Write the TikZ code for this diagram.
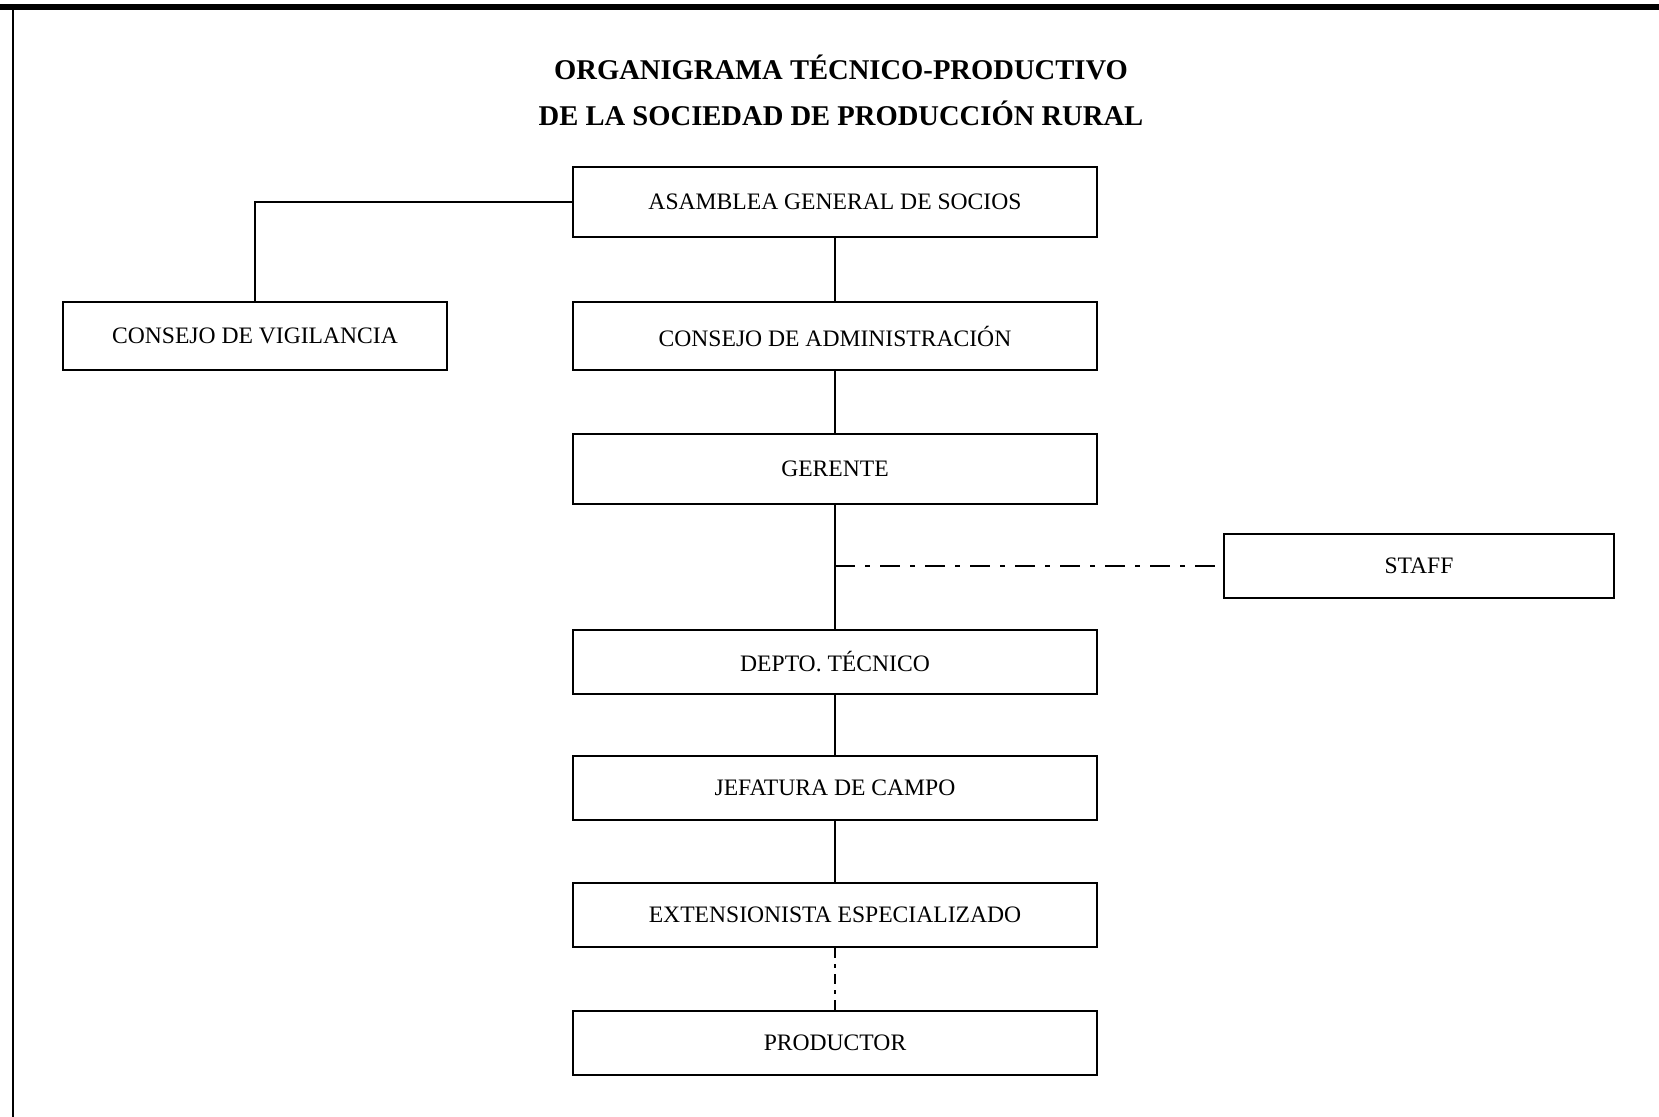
\documentclass[tikz,border=0pt]{standalone}
\usepackage{fontspec}
\setmainfont{Liberation Serif}
\begin{document}
\begin{tikzpicture}[x=0.5pt,y=-0.5pt,
  box/.style={draw,line width=1pt,rectangle,minimum width=262pt,minimum height=33pt,inner sep=0pt,font=\fontsize{11.8}{13}\selectfont},
  ttl/.style={font=\fontsize{14.3}{16}\selectfont\bfseries},
  conn/.style={line width=1pt},
  dashdot/.style={line width=1pt,dash pattern=on 10pt off 5pt on 2.5pt off 5pt},
  shortdash/.style={line width=1pt,dash pattern=on 5pt off 3pt on 2pt off 3pt}]
\useasboundingbox (0,0) rectangle (1659,1117);
% frame
\draw[line width=3pt] (0,7) -- (1659,7);
\draw[line width=1.3pt] (13,8) -- (13,1117);
% title
\node[ttl] (t1) at (841,67) {ORGANIGRAMA TÉCNICO-PRODUCTIVO};
\node[ttl] (t2) at (841,113) {DE LA SOCIEDAD DE PRODUCCIÓN RURAL};
% nodes
\node[box,minimum height=35pt] (asam) at (835,202) {ASAMBLEA GENERAL DE SOCIOS};
\node[box,minimum width=192pt,minimum height=34pt] (cvig) at (255,336) {CONSEJO DE VIGILANCIA};
\node[box,minimum height=34pt] (cadm) at (835,336) {CONSEJO DE ADMINISTRACIÓN};
\node[box,minimum height=35pt] (ger) at (835,469) {GERENTE};
\node[box,minimum width=195pt,minimum height=32pt] (staff) at (1419,566) {STAFF};
\node[box,minimum height=32pt] (dep) at (835,661.5) {DEPTO. TÉCNICO};
\node[box,minimum height=32pt] (jef) at (835,788) {JEFATURA DE CAMPO};
\node[box,minimum height=32pt] (ext) at (835,915) {EXTENSIONISTA ESPECIALIZADO};
\node[box,minimum height=32pt] (prod) at (835,1042.5) {PRODUCTOR};
% connectors
\draw[conn] (asam.west) -| (cvig.north);
\draw[conn] (asam.south) -- (cadm.north);
\draw[conn] (cadm.south) -- (ger.north);
\draw[conn] (ger.south) -- (dep.north);
\coordinate (sj) at (ger.south |- staff.west);
\draw[dashdot] (sj) -- (staff.west);
\draw[conn] (dep.south) -- (jef.north);
\draw[conn] (jef.south) -- (ext.north);
\draw[shortdash] (ext.south) -- (prod.north);
\end{tikzpicture}
\end{document}
